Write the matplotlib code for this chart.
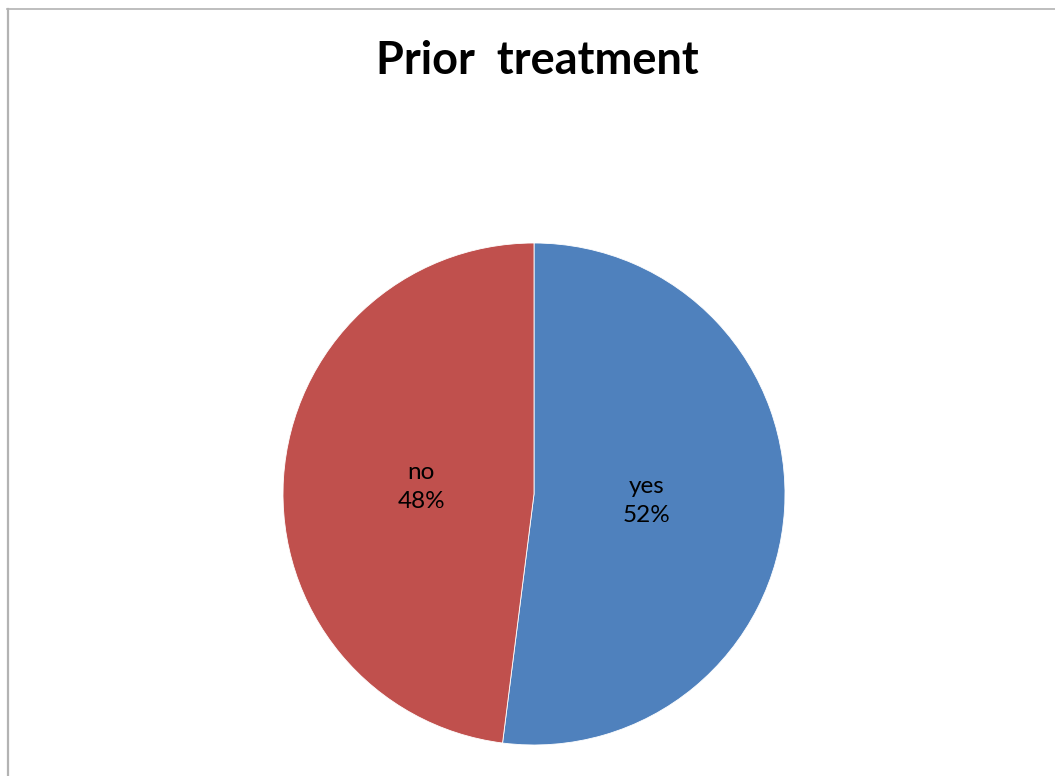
import matplotlib
matplotlib.use("Agg")
import matplotlib.pyplot as plt
from matplotlib.lines import Line2D

categories = ["yes", "no"]
values = [52, 48]
colors = ["#4F81BD", "#C0504D"]
title = "Prior  treatment"

W, H, DPI = 1055, 776, 100
fig = plt.figure(figsize=(W / DPI, H / DPI), dpi=DPI)
fig.patch.set_facecolor("white")

# partial frame (top and left edges visible)
fig.add_artist(Line2D([7.5 / W, 7.5 / W], [0, 1 - 9 / H], transform=fig.transFigure,
                      color="#b3b3b3", lw=1.6))
fig.add_artist(Line2D([7 / W, 1], [1 - 9 / H, 1 - 9 / H], transform=fig.transFigure,
                      color="#b3b3b3", lw=1.2))

cx, cy, r = 534, 494, 251
ax = fig.add_axes([(cx - r) / W, (H - cy - r) / H, 2 * r / W, 2 * r / H])
total = sum(values)
labels = [f"{c}\n{round(v / total * 100)}%" for c, v in zip(categories, values)]
wedges, texts = ax.pie(values, colors=colors, startangle=90, counterclock=False,
                       labels=labels, labeldistance=0.45, radius=1,
                       wedgeprops=dict(edgecolor="white", linewidth=0.6),
                       textprops=dict(fontsize=17.5, family="Lato", color="black",
                                      ha="center", va="center", linespacing=1.5))
for t in texts:
    t.set_horizontalalignment("center")
ax.set_xlim(-1, 1)
ax.set_ylim(-1, 1)
ax.set_aspect("equal")
ax.axis("off")

fig.text(537 / W, 1 - 61 / H, title, ha="center", va="center", fontsize=32.5,
         fontweight="bold", family="Lato", color="black")

fig.savefig("out.png", dpi=DPI)
